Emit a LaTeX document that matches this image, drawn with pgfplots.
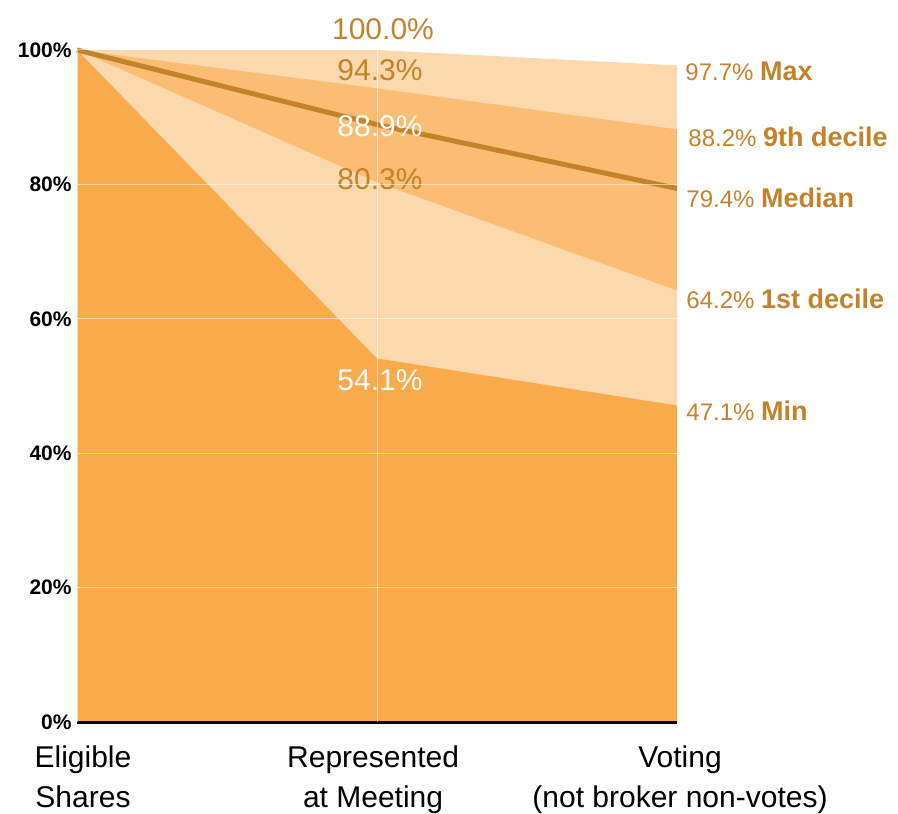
\documentclass[border=0pt]{standalone}
\usepackage{pgfplots}
\pgfplotsset{compat=1.18}
\usepackage{fontspec}
\setmainfont{Liberation Sans}
\definecolor{dark}{HTML}{F9AA4A}
\definecolor{mid}{HTML}{FBBD74}
\definecolor{pale}{HTML}{FCD8AD}
\definecolor{gold}{HTML}{C4822B}
\newcommand\lb[1]{{\fontsize{13.5}{14}\selectfont\bfseries #1}}
\begin{document}
\begin{tikzpicture}
\begin{axis}[name=ax,
  scale only axis, width=300pt, height=336pt,
  xmin=0, xmax=2, ymin=0, ymax=100,
  clip=false, axis on top,
  axis lines=left, axis line style={draw=none},
  xtick={0,1,2}, ytick={20,40,60,80,100},
  xticklabels={}, yticklabels={},
  major tick length=0pt,
  grid=major, grid style={white, line width=0.5pt, opacity=0.55},
  ]
\addplot[draw=none, fill=pale] coordinates {(0,100) (1,100) (2,97.7)} \closedcycle;
\addplot[draw=none, fill=mid] coordinates {(0,100) (1,94.3) (2,88.2)} \closedcycle;
\addplot[draw=none, fill=pale] coordinates {(0,100) (1,80.3) (2,64.2)} \closedcycle;
\addplot[draw=none, fill=dark] coordinates {(0,100) (1,54.1) (2,47.1)} \closedcycle;
\addplot[gold, line width=2.5pt] coordinates {(0,100) (1,88.9) (2,79.4)};
\addplot[black, line width=1.5pt] coordinates {(0,0) (2,0)};
\foreach \yy in {0,20,40,60,80,100} {
  \edef\temp{\noexpand\node[anchor=east, font=\noexpand\fontsize{10.5}{12}\noexpand\selectfont\noexpand\bfseries, inner sep=0pt] at (axis cs:0,\yy) [xshift=-2.5pt] {\yy\noexpand\%};}
  \temp
}
\begin{scope}[every node/.style={font=\fontsize{15}{17}\selectfont, inner sep=0pt}]
\node[anchor=base, gold] at (axis cs:1.02,101.5) {100.0\%};
\node[anchor=base, gold] at (axis cs:1.01,95.5) {94.3\%};
\node[anchor=base, white] at (axis cs:1.01,87.2) {88.9\%};
\node[anchor=base, gold] at (axis cs:1.01,79.2) {80.3\%};
\node[anchor=base, white] at (axis cs:1.01,49.4) {54.1\%};
\end{scope}
\begin{scope}[every node/.style={font=\fontsize{12}{14}\selectfont, inner sep=0pt}]
\node[anchor=base west, gold, xshift=4pt] at (axis cs:2,95.4) {97.7\% \lb{Max}};
\node[anchor=base west, gold, xshift=5.5pt] at (axis cs:2,85.7) {88.2\% \lb{9th decile}};
\node[anchor=base west, gold, xshift=4.5pt] at (axis cs:2,76.6) {79.4\% \lb{Median}};
\node[anchor=base west, gold, xshift=4.5pt] at (axis cs:2,61.6) {64.2\% \lb{1st decile}};
\node[anchor=base west, gold, xshift=4.5pt] at (axis cs:2,44.8) {47.1\% \lb{Min}};
\end{scope}
\begin{scope}[every node/.style={font=\fontsize{15}{20}\selectfont, inner sep=0pt, align=center, anchor=north}]
\node at ([yshift=-11.5pt]axis cs:0.02,0) {Eligible\\Shares};
\node at ([yshift=-11.5pt]axis cs:0.987,0) {Represented\\at Meeting};
\node at ([yshift=-11.5pt]axis cs:2.01,0) {Voting\\(not broker non-votes)};
\end{scope}
\end{axis}
\pgfresetboundingbox
\path[use as bounding box] ([shift={(-38.5pt,-45.5pt)}]ax.south west) rectangle ([shift={(110.5pt,25pt)}]ax.north east);
\end{tikzpicture}
\end{document}
